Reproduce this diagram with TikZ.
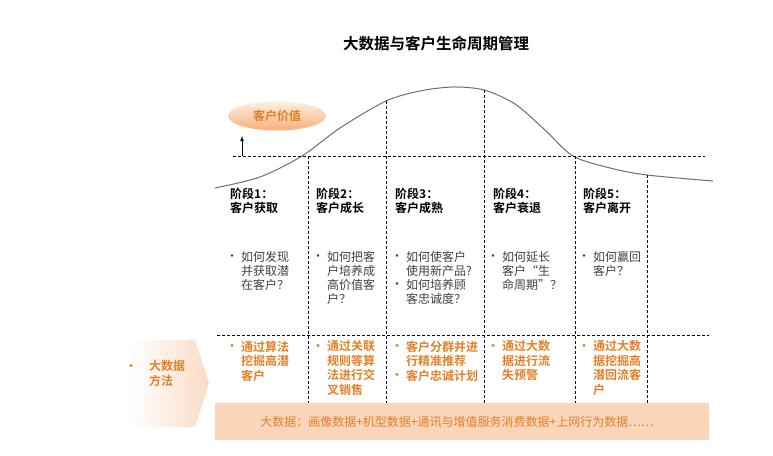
\documentclass[tikz,border=0pt]{standalone}
\usepackage{fontspec}
\setmainfont{Noto Sans CJK SC}[BoldFont={Noto Sans CJK SC Bold}]
\usetikzlibrary{shapes.geometric}
\definecolor{methodOrange}{RGB}{226,128,40}
\definecolor{barPeach}{RGB}{251,213,185}
\definecolor{valueTop}{RGB}{254,238,224}
\definecolor{valueBottom}{RGB}{247,176,124}
\definecolor{questionGray}{RGB}{64,64,64}
\definecolor{curveGray}{RGB}{110,110,110}
\tikzstyle{diagram} = [x=1pt, y=-1pt]
\tikzstyle{gridDash} = [color=black, line width=0.7pt, dash pattern=on 3pt off 2pt]
\tikzstyle{stageText} = [font=\fontsize{12}{14}\selectfont\bfseries, align=left, anchor=north west, inner sep=0]
\tikzstyle{questionText} = [font=\fontsize{12}{14}\selectfont, text=questionGray, align=left, anchor=north west, inner sep=0]
\tikzstyle{methodText} = [font=\fontsize{12}{14.5}\selectfont\bfseries, text=methodOrange, align=left, anchor=north west, inner sep=0]
\newcommand{\bulletItem}[5]{\node [#4, anchor=center] (#1Dot) at (#2, #3) {•}; \node [#4] (#1) at (#2 + 9, #3 - 6.5) {#5};}
\newcommand{\stageLabel}[4]{\node [stageText] (#1) at (#2, #3) {#4};}

\begin{document}
\begin{tikzpicture}[diagram]
  \useasboundingbox (0,0) rectangle (773,455);
  \node [font=\fontsize{15.5}{18}\selectfont\bfseries] (title) at (436,44) {大数据与客户生命周期管理};
  % value curve
  \draw [curveGray, line width=1pt] plot [smooth] coordinates {(215,188) (260,177) (302,156) (340,128) (386,101) (420,91) (453,87) (484,90) (515,104) (545,130) (573,156) (610,168) (647,175) (713,181)};
  \draw [gridDash] (233,156) -- (705,156);
  \draw [gridDash] (217,335) -- (709,335);
  \foreach \xpos/\ytop in {308/156, 386/101, 484/90, 575/156, 647/175}
    \draw [gridDash] (\xpos,\ytop) -- (\xpos,403);
  \node [ellipse, minimum width=98pt, minimum height=29pt, top color=valueTop, bottom color=valueBottom, text=methodOrange, font=\fontsize{12}{14}\selectfont\bfseries] (customerValue) at (277,116) {客户价值};
  \coordinate (arrowBase) at (242,156);
  \coordinate (arrowTip) at (242,136);
  \draw [-latex, line width=0.8pt] (arrowBase) -- (arrowTip);
  % stages
  \stageLabel{stageOne}{230}{188}{阶段1：\\客户获取}
  \stageLabel{stageTwo}{316}{188}{阶段2：\\客户成长}
  \stageLabel{stageThree}{395}{188}{阶段3：\\客户成熟}
  \stageLabel{stageFour}{493}{188}{阶段4：\\客户衰退}
  \stageLabel{stageFive}{583}{188}{阶段5：\\客户离开}
  % questions
  \bulletItem{askOne}{232}{258}{questionText}{如何发现\\并获取潜\\在客户？}
  \bulletItem{askTwo}{318}{258}{questionText}{如何把客\\户培养成\\高价值客\\户？}
  \bulletItem{askThreeA}{397}{258}{questionText}{如何使客户\\使用新产品?}
  \bulletItem{askThreeB}{397}{286}{questionText}{如何培养顾\\客忠诚度？}
  \bulletItem{askFour}{493}{258}{questionText}{如何延长\\客户“生\\命周期”？}
  \bulletItem{askFive}{584}{258}{questionText}{如何赢回\\客户？}
  % big data methods
  \shade [left color=white, right color=barPeach!85] (130,340) -- (195,340) -- (209,383) -- (195,427) -- (130,427) -- cycle;
  \bulletItem{methodLabel}{131}{367}{methodText}{\hspace{9pt}大数据\\\hspace{9pt}方法}
  \bulletItem{methodOne}{232}{347}{methodText}{通过算法\\挖掘高潜\\客户}
  \bulletItem{methodTwo}{318}{347}{methodText}{通过关联\\规则等算\\法进行交\\叉销售}
  \bulletItem{methodThreeA}{397}{347}{methodText}{客户分群并进\\行精准推荐}
  \bulletItem{methodThreeB}{397}{376}{methodText}{客户忠诚计划}
  \bulletItem{methodFour}{493}{347}{methodText}{通过大数\\据进行流\\失预警}
  \bulletItem{methodFive}{584}{347}{methodText}{通过大数\\据挖掘高\\潜回流客\\户}
  \fill [barPeach] (215,403) rectangle (709,440);
  \node [font=\fontsize{12}{14}\selectfont, text=methodOrange] (dataSources) at (457,422) {大数据：画像数据+机型数据+通讯与增值服务消费数据+上网行为数据……};
\end{tikzpicture}
\end{document}
